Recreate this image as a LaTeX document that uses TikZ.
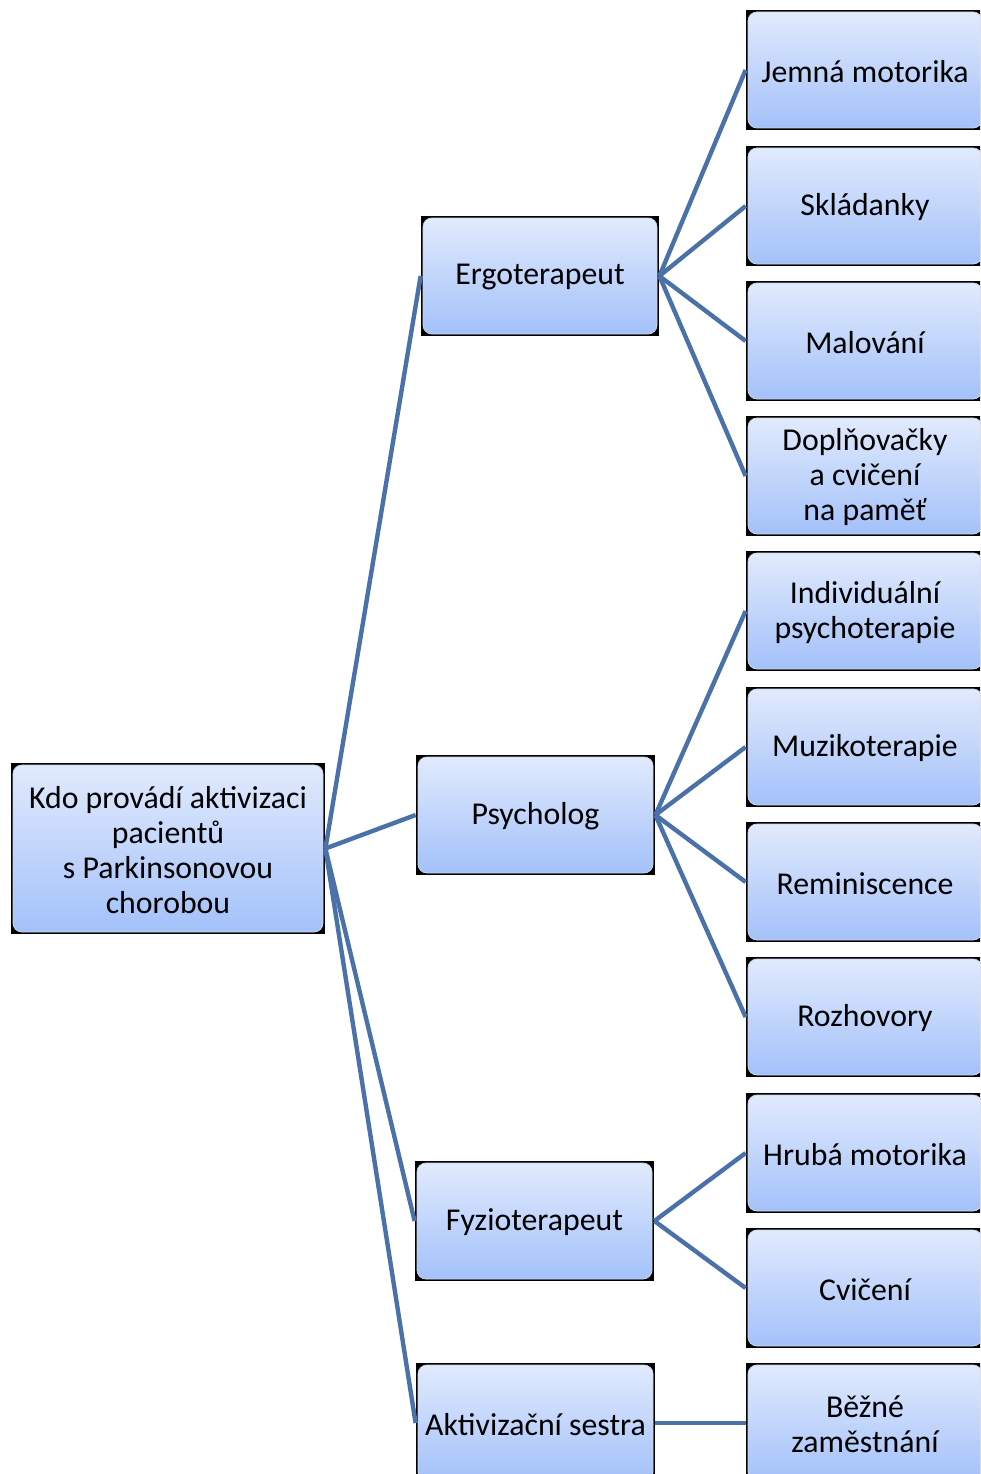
\documentclass[tikz,border=0pt]{standalone}
\usepackage{fontspec}
\setmainfont{Carlito}
\begin{document}
\begin{tikzpicture}[x=1pt,y=-1pt,
  box/.style={rounded corners=9pt, top color=boxtop, bottom color=boxbot,
    draw=boxedge, line width=0.8pt, inner sep=0pt},
  boxtext/.style={align=center, inner sep=0pt,
    font=\fontsize{31.8}{35}\selectfont},
  link/.style={draw=linkblue, line width=4.4pt}]
\definecolor{boxtop}{RGB}{225,234,253}
\definecolor{boxbot}{RGB}{163,193,250}
\definecolor{boxedge}{RGB}{205,214,228}
\definecolor{linkblue}{RGB}{74,114,168}
\useasboundingbox (0,0) rectangle (980,1474);
\clip (0,0) rectangle (980,1474);
% framed box: black backing rectangle, shaded rounded panel, centred text
% #1 name, #2 left, #3 top, #4 width, #5 height, #6 text
\newcommand{\framedbox}[6]{%
  \fill[black] (#2,#3) rectangle ++(#4,#5);
  \node[box, minimum width=#4pt-4pt, minimum height=#5pt-4pt] (#1)
    at ({#2+#4/2},{#3+#5/2}) {};
  \node[boxtext] (#1-text) at ([yshift=-1.2pt]#1.center) {#6};
}
% root
\framedbox{root}{11}{763}{314}{171}{Kdo provádí aktivizaci\\pacientů\\s Parkinsonovou\\chorobou}
% second level
\framedbox{ergo}{421}{216}{238}{120}{Ergoterapeut}
\framedbox{psy}{416}{755}{239}{120}{Psycholog}
\framedbox{fyz}{415}{1161}{239}{120}{Fyzioterapeut}
\framedbox{ses}{416}{1363}{239}{120}{Aktivizační sestra}
% leaves
\framedbox{l1}{746}{10}{238}{120}{Jemná motorika}
\framedbox{l2}{746}{146}{238}{120}{Skládanky}
\framedbox{l3}{746}{281}{238}{120}{Malování}
\framedbox{l4}{746}{416}{238}{120}{Doplňovačky\\a cvičení\\na paměť}
\framedbox{l5}{746}{551}{238}{120}{Individuální\\psychoterapie}
\framedbox{l6}{746}{687}{238}{120}{Muzikoterapie}
\framedbox{l7}{746}{822}{238}{120}{Reminiscence}
\framedbox{l8}{746}{957}{238}{120}{Rozhovory}
\framedbox{l9}{746}{1093}{238}{120}{Hrubá motorika}
\framedbox{l10}{746}{1228}{238}{120}{Cvičení}
\framedbox{l11}{746}{1363}{238}{120}{Běžné\\zaměstnání}
% connectors
\foreach \t in {ergo,psy,fyz,ses} \draw[link] ([xshift=2pt]root.east) -- ([xshift=-2pt]\t.west);
\foreach \t in {l1,l2,l3,l4} \draw[link] ([xshift=2pt]ergo.east) -- ([xshift=-2pt]\t.west);
\foreach \t in {l5,l6,l7,l8} \draw[link] ([xshift=2pt]psy.east) -- ([xshift=-2pt]\t.west);
\foreach \t in {l9,l10} \draw[link] ([xshift=2pt]fyz.east) -- ([xshift=-2pt]\t.west);
\draw[link] ([xshift=2pt]ses.east) -- ([xshift=-2pt]l11.west);
\end{tikzpicture}
\end{document}
